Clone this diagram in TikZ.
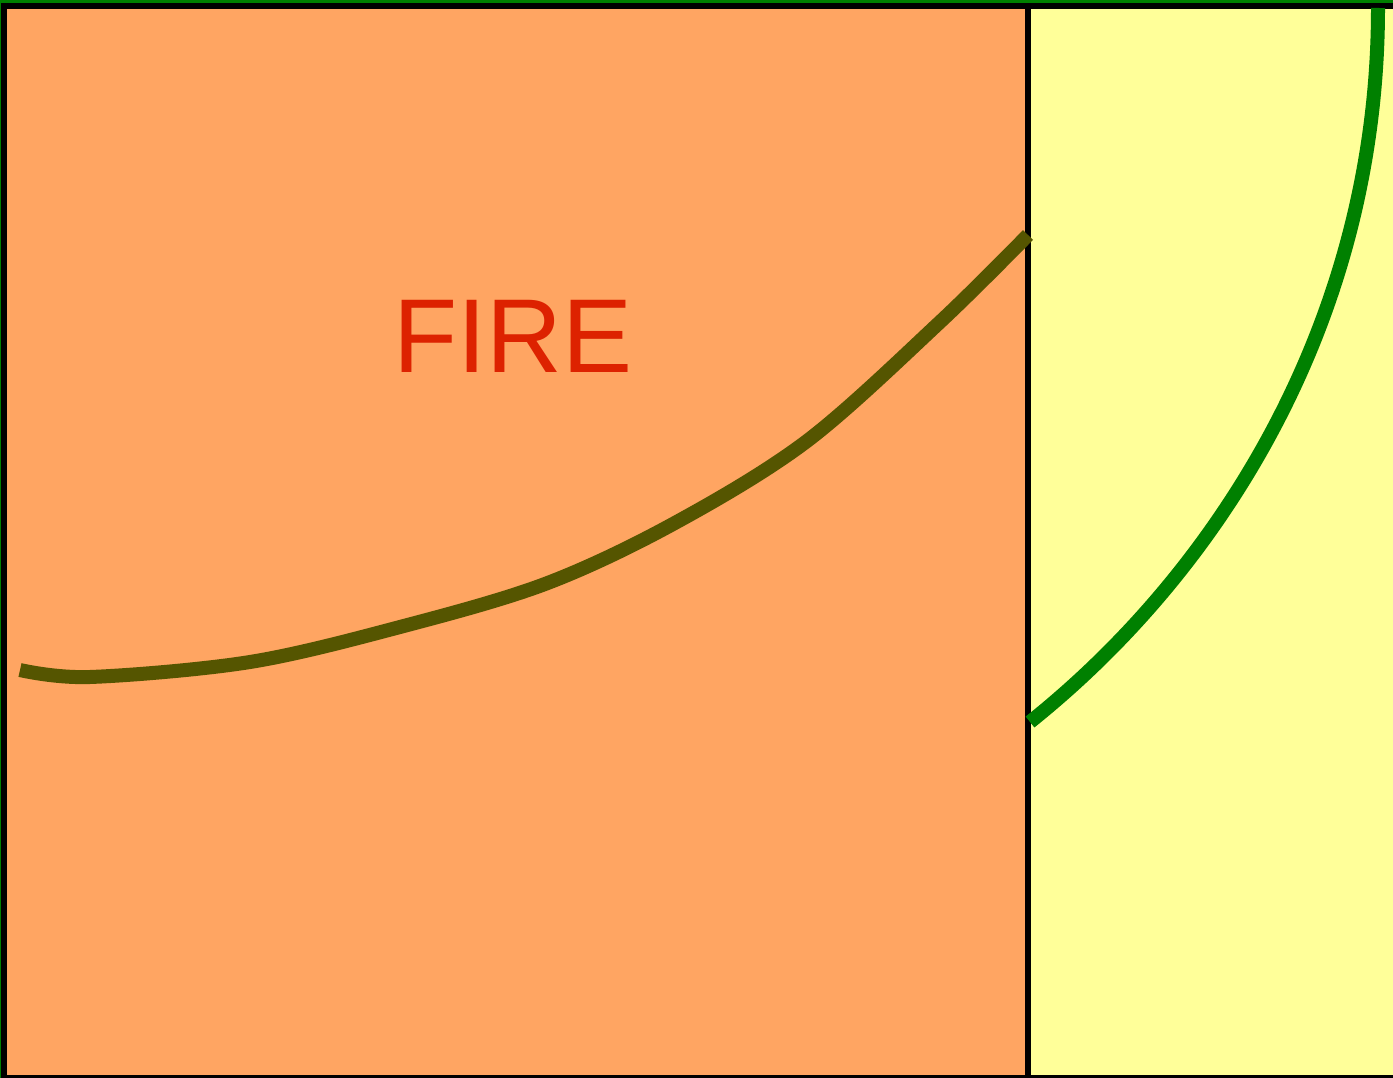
\documentclass[tikz,border=0pt]{standalone}
\usepackage{fontspec}
\setmainfont{Liberation Sans}
\usepackage{xcolor}
\usepackage{tikz}
\definecolor{firezone}{HTML}{FFA562}
\definecolor{safezone}{HTML}{FFFF99}
\definecolor{olive}{HTML}{555500}
\definecolor{edge}{HTML}{008000}
\definecolor{firetext}{HTML}{DD2200}

\begin{document}
\begin{tikzpicture}[
  x=1pt, y=-1pt,
  wall/.style={draw=black, line width=6pt},
  front/.style={draw=olive, line width=14pt},
  limit/.style={draw=edge, line width=14pt},
  label/.style={text=firetext, font=\fontsize{105}{120}\selectfont, inner sep=0pt}
]
\useasboundingbox (0,0) rectangle (1393,1078);
\clip (0,0) rectangle (1393,1078);

% zones
\fill[safezone] (0,0) rectangle (1393,1078);
\fill[firezone] (4,6) rectangle (1028,1078);

% outer frame and divider
\draw[wall] (4,6) rectangle (1400,1078);
\draw[wall] (1028,6) -- (1028,1078);
\draw[edge, line width=4pt] (0,1.5) -- (1393,1.5);
\draw[edge, line width=2pt] (0,0) -- (0,1078);

\node[label] (fire) at (513,336) {FIRE};

% fire front
\draw[front] plot[smooth, tension=0.55] coordinates {
  (20,670) (90,677) (250,662) (400,627) (545,584)
  (673,524) (807,441) (940,322) (1028,235)};

% safe limit
\draw[limit] (1030,722) .. controls (1220,570) and (1378,320) .. (1378,8);
\end{tikzpicture}
\end{document}
